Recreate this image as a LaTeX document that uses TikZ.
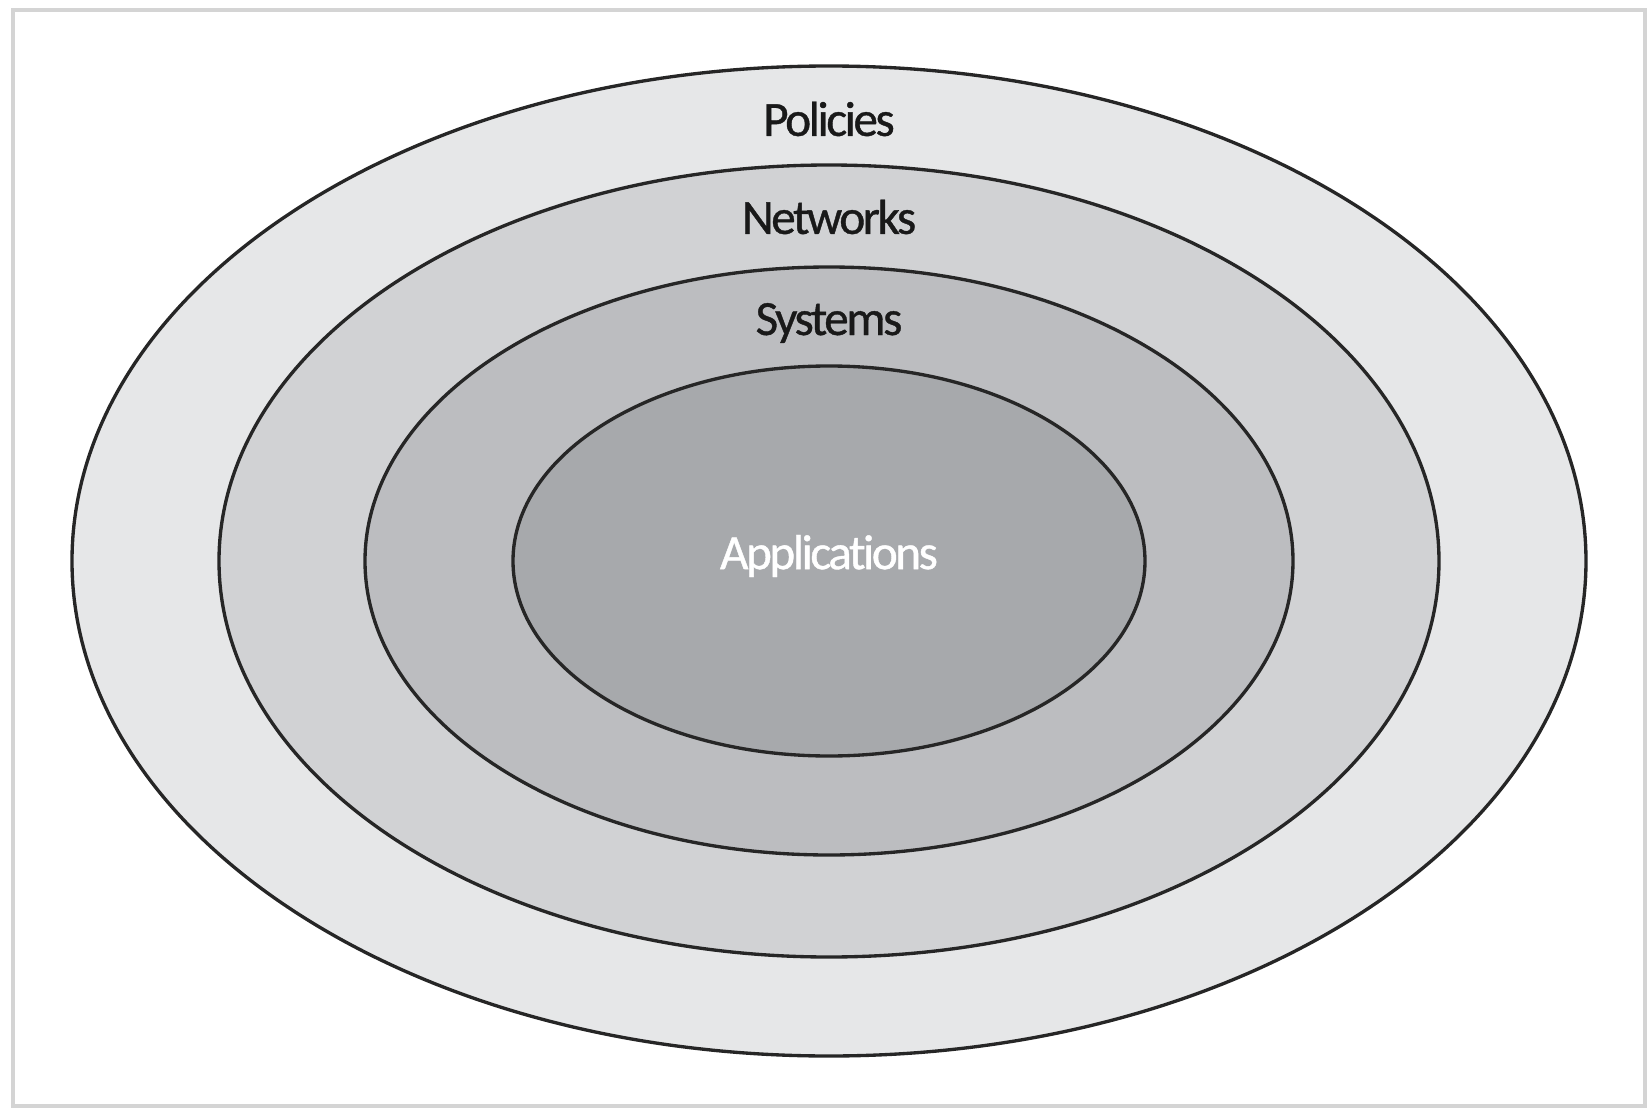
\documentclass[tikz,border=0pt]{standalone}
\usepackage{fontspec}
\setmainfont[LetterSpace=-5, Ligatures=NoCommon, FakeBold=0.8]{Carlito}
\usepackage{tikz}
\usetikzlibrary{positioning,shapes}
\definecolor{ring1}{HTML}{E6E7E8}
\definecolor{ring2}{HTML}{D1D2D4}
\definecolor{ring3}{HTML}{BCBDC0}
\definecolor{ring4}{HTML}{A7A9AC}
\definecolor{framegray}{HTML}{D4D4D4}
\tikzstyle{layer} = [draw=black!85, line width=0.95pt]
\tikzstyle{label} = [font=\fontsize{14}{16}\selectfont, text=black!90, inner sep=0pt]
\tikzstyle{border} = [draw=framegray, line width=1.1pt]
\def\cx{8.29}
\def\cy{5.49}

\begin{document}
\begin{tikzpicture}
\useasboundingbox (0,0) rectangle (16.5,11.1);
\draw [border] (0.13,0.04) rectangle (16.45,11.0);

\draw [layer, fill=ring1] (\cx,\cy) ellipse [x radius=7.57, y radius=4.95];
\draw [layer, fill=ring2] (\cx,\cy) ellipse [x radius=6.10, y radius=3.96];
\draw [layer, fill=ring3] (\cx,\cy) ellipse [x radius=4.64, y radius=2.94];
\draw [layer, fill=ring4] (\cx,\cy) ellipse [x radius=3.16, y radius=1.95];

\node (policies) [label] at (\cx,9.91) {Policies};
\node (networks) [label] at (\cx,8.93) {Networks};
\node (systems) [label, anchor=base] at (\cx,7.75) {Systems};
\node (apps) [label, text=white] at (\cx,5.54) {Applications};

\end{tikzpicture}
\end{document}
